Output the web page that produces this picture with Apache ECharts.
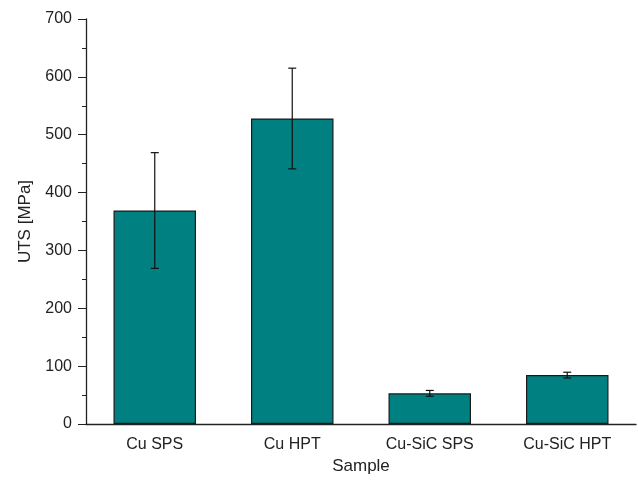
<!DOCTYPE html>
<html>
<head>
<meta charset="utf-8">
<script src="https://cdn.jsdelivr.net/npm/echarts@6/dist/echarts.min.js"></script>
<style>
  html, body { margin: 0; padding: 0; background: #fff; }
  #chart { width: 638px; height: 488px; }
</style>
</head>
<body>
<div id="chart"></div>
<script>
// samples and UTS values (MPa) with +/- error
var samples = ['Cu SPS', 'Cu HPT', 'Cu-SiC SPS', 'Cu-SiC HPT'];
var uts = [369, 528, 53, 84.5];
var utsErr = [100, 87, 5, 5];

var errData = [];
for (var i = 0; i < samples.length; i++) {
    errData.push([i, uts[i] - utsErr[i], uts[i] + utsErr[i]]);
}

var chart = echarts.init(document.getElementById('chart'));
var font = 'Liberation Sans, Arial, sans-serif';

var option = {
    animation: false,
    grid: { left: 86, right: 2, top: 19, bottom: 64 },
    xAxis: {
        type: 'category',
        data: samples,
        name: 'Sample',
        nameLocation: 'middle',
        nameGap: 34,
        nameTextStyle: { fontFamily: font, fontSize: 17, color: '#222' },
        axisLine: { lineStyle: { color: '#222', width: 1.3 } },
        axisTick: { alignWithLabel: true, length: 8, lineStyle: { color: '#222' } },
        axisLabel: { fontFamily: font, fontSize: 16, color: '#222', margin: 13 }
    },
    yAxis: {
        type: 'value',
        min: 0,
        max: 700,
        interval: 100,
        name: 'UTS [MPa]',
        nameLocation: 'middle',
        nameGap: 52,
        nameTextStyle: { fontFamily: font, fontSize: 17, color: '#222' },
        axisLine: { show: true, lineStyle: { color: '#222', width: 1.3 } },
        axisTick: { show: true, length: 8, lineStyle: { color: '#222' } },
        minorTick: { show: true, splitNumber: 2, length: 4, lineStyle: { color: '#222' } },
        splitLine: { show: false },
        axisLabel: { fontFamily: font, fontSize: 16, color: '#222', margin: 14 }
    },
    series: [
        {
            type: 'bar',
            data: uts,
            barWidth: '60%',
            itemStyle: { color: '#008080', borderColor: '#1a1a1a', borderWidth: 1.2 }
        },
        {
            type: 'custom',
            data: errData,
            z: 10,
            renderItem: function (params, api) {
                var idx = api.value(0);
                var lo = api.coord([idx, api.value(1)]);
                var hi = api.coord([idx, api.value(2)]);
                var w = 4;
                var style = { stroke: '#111', lineWidth: 1.2 };
                return {
                    type: 'group',
                    children: [
                        { type: 'line', shape: { x1: lo[0], y1: lo[1], x2: hi[0], y2: hi[1] }, style: style },
                        { type: 'line', shape: { x1: hi[0] - w, y1: hi[1], x2: hi[0] + w, y2: hi[1] }, style: style },
                        { type: 'line', shape: { x1: lo[0] - w, y1: lo[1], x2: lo[0] + w, y2: lo[1] }, style: style }
                    ]
                };
            }
        }
    ]
};

chart.setOption(option);
</script>
</body>
</html>
